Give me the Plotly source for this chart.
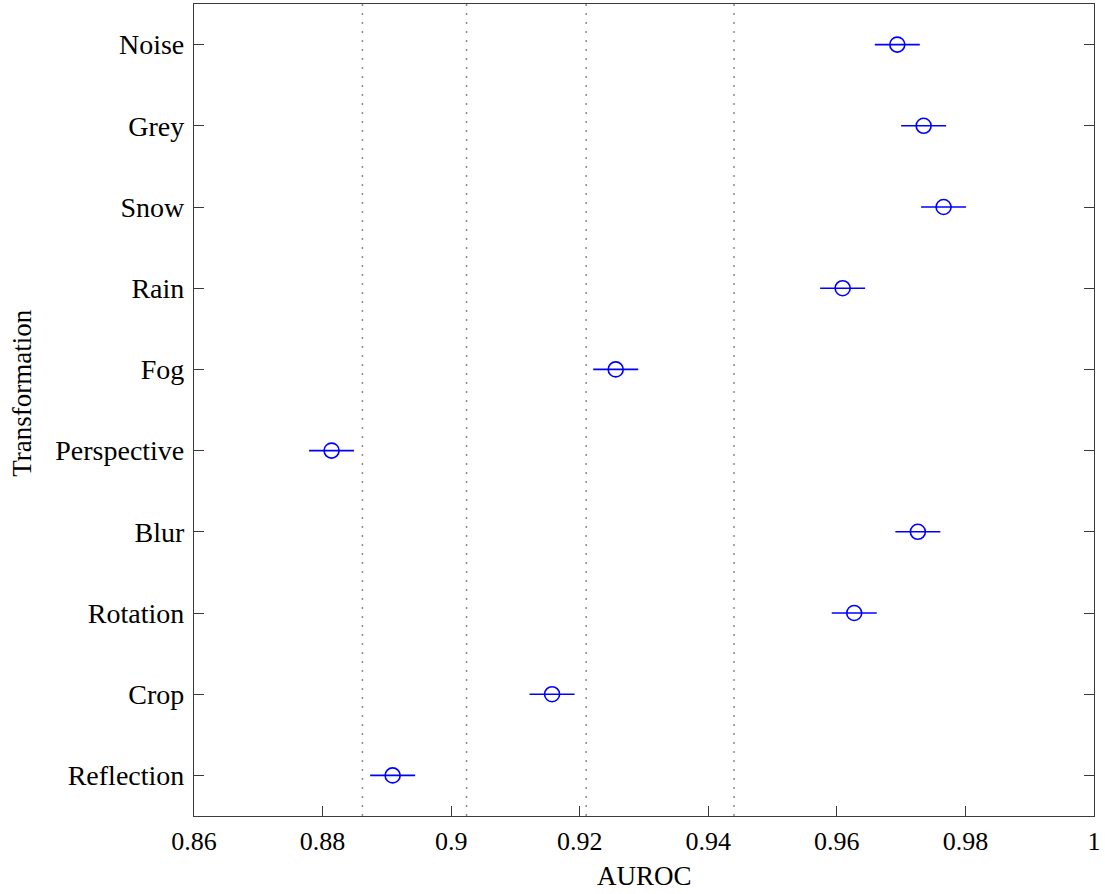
import plotly.graph_objects as go

# AUROC per transformation (top to bottom) with symmetric error
transformations = ["Noise", "Grey", "Snow", "Rain", "Fog", "Perspective",
                   "Blur", "Rotation", "Crop", "Reflection"]
auroc = [0.9694, 0.9735, 0.9766, 0.9609, 0.9256, 0.8814,
         0.9726, 0.9627, 0.9157, 0.8909]
auroc_err = [0.0035, 0.0035, 0.0035, 0.0035, 0.0035, 0.0035,
             0.0035, 0.0035, 0.0035, 0.0035]

# reference levels drawn as dotted vertical lines
reference_lines = [0.8862, 0.9024, 0.9210, 0.9440]

x_ticks = [0.86, 0.88, 0.90, 0.92, 0.94, 0.96, 0.98, 1.00]
x_tick_text = ["0.86", "0.88", "0.9", "0.92", "0.94", "0.96", "0.98", "1"]

FONT = "Liberation Serif, Times New Roman, serif"
AXIS_COLOR = "#3a3a3a"

fig = go.Figure()

for xv in reference_lines:
    fig.add_vline(x=xv, line=dict(color="#8a8a8a", width=1.5, dash="2px,7px"),
                  layer="below")

fig.add_trace(go.Scatter(
    x=auroc,
    y=transformations,
    mode="markers",
    marker=dict(symbol="circle-open", size=15, color="#0000ff",
                line=dict(width=1.6, color="#0000ff")),
    error_x=dict(type="data", array=auroc_err, color="#0000ff",
                 thickness=1.6, width=0),
    showlegend=False,
))

fig.update_layout(
    width=1105,
    height=894,
    margin=dict(l=194, r=11, t=4, b=78),
    plot_bgcolor="white",
    paper_bgcolor="white",
    font=dict(family=FONT, size=26, color="black"),
    xaxis=dict(
        range=[0.86, 1.0],
        tickvals=x_ticks,
        ticktext=x_tick_text,
        ticks="inside",
        ticklen=10,
        tickwidth=1.2,
        tickcolor=AXIS_COLOR,
        showline=True,
        linecolor=AXIS_COLOR,
        linewidth=1.2,
        mirror=True,
        showgrid=False,
        zeroline=False,
        ticklabelstandoff=2,
        tickfont=dict(family=FONT, size=26),
    ),
    yaxis=dict(
        categoryorder="array",
        categoryarray=transformations[::-1],
        range=[-0.5, 9.5],
        ticks="inside",
        ticklen=10,
        tickwidth=1.2,
        tickcolor=AXIS_COLOR,
        showline=True,
        linecolor=AXIS_COLOR,
        linewidth=1.2,
        mirror="ticks",
        showgrid=False,
        zeroline=False,
        ticklabelstandoff=3,
        tickfont=dict(family=FONT, size=28),
    ),
    annotations=[
        dict(text="AUROC", x=0.5, y=0.0, xref="paper", yref="paper",
             yshift=-60, showarrow=False, xanchor="center", yanchor="middle",
             font=dict(family=FONT, size=27)),
        dict(text="Transformation", x=0, y=0.52, xref="paper", yref="paper",
             xshift=-172, showarrow=False, textangle=-90,
             xanchor="center", yanchor="middle",
             font=dict(family=FONT, size=27)),
    ],
)

fig.write_html("out.html")
